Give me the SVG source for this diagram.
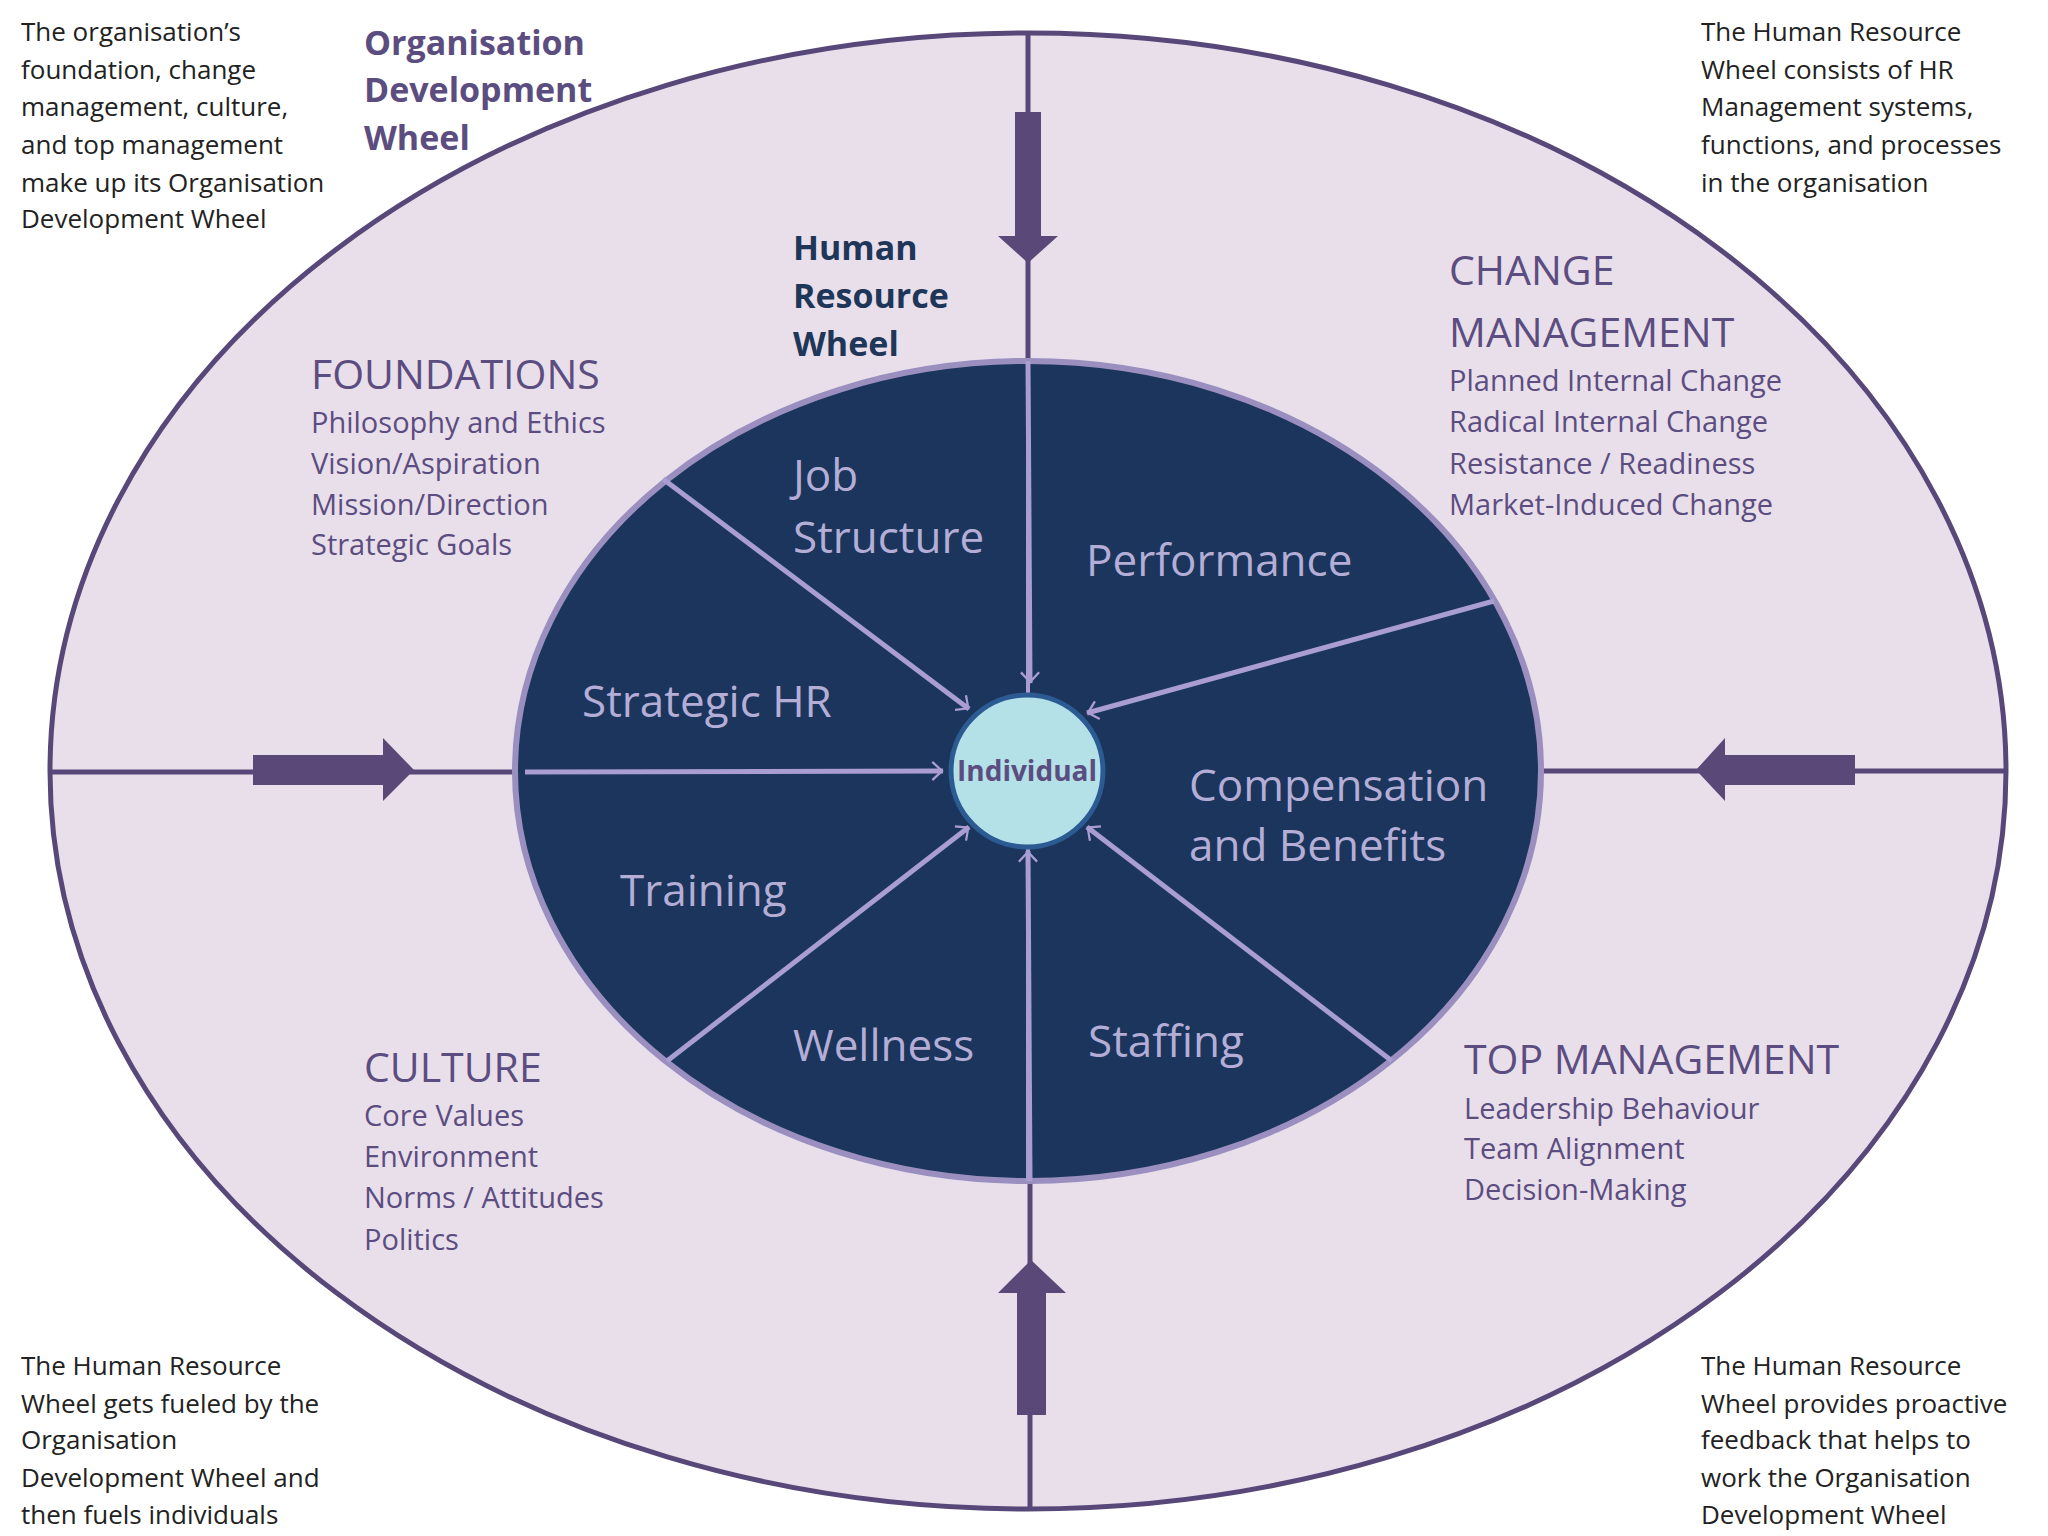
<svg xmlns="http://www.w3.org/2000/svg" width="2048" height="1536" viewBox="0 0 2048 1536">
<style>
.t{font-family:"Open Sans","Noto Sans",sans-serif}
.corner{font-size:26px;fill:#222}
.head{font-size:41px;fill:#5c4d80}
.item{font-size:29px;fill:#5c4d80}
.inner{font-size:44px;fill:#b4aed6}
.spoke{stroke:#a99dd2;stroke-width:5;fill:none;marker-end:url(#oa)}
.cross{stroke:#58487a;stroke-width:5}
.big{fill:#5a4878}
</style>
<defs>
<marker id="oa" viewBox="0 0 12 12" refX="11" refY="6" markerWidth="6" markerHeight="6" orient="auto" markerUnits="userSpaceOnUse" style="overflow:visible">
<path d="M-4,-8 L11,6 L-4,20" fill="none" stroke="#a99dd2" stroke-width="3.5" transform="scale(1.3) translate(-4,-1.5)"/>
</marker>
</defs>
<rect width="2048" height="1536" fill="#fff"/>
<g id="outer"><ellipse cx="1028" cy="771" rx="978" ry="738" fill="#e8dfeb" stroke="#58487a" stroke-width="5"/></g>
<g id="connectors">
<line class="cross" x1="1028" y1="33" x2="1028" y2="361"/>
<line class="cross" x1="1030" y1="1181" x2="1030" y2="1507"/>
<line class="cross" x1="50" y1="772" x2="515" y2="772"/>
<line class="cross" x1="1543" y1="771" x2="2006" y2="771"/>
<polygon class="big" points="1015,112 1041,112 1041,236 1058,236 1028,263 998,236 1015,236"/>
<polygon class="big" points="1017,1415 1046,1415 1046,1293 1066,1293 1031,1260 998,1293 1017,1293"/>
<polygon class="big" points="253,755 383,755 383,738 414,770 383,801 383,785 253,785"/>
<polygon class="big" points="1855,755 1725,755 1725,738 1696,770 1725,801 1725,785 1855,785"/>
</g>
<g id="hr-wheel"><ellipse cx="1028" cy="771" rx="513" ry="410" fill="#1b355d" stroke="#9b8fc0" stroke-width="6"/></g>
<g id="spokes">
<line class="cross" x1="1028" y1="361" x2="1028" y2="1181" style="stroke:#a99dd2;stroke-width:4"/>
<line class="spoke" x1="1028" y1="361" x2="1030" y2="683"/>
<line class="spoke" x1="663" y1="479" x2="969" y2="709"/>
<line class="spoke" x1="1494" y1="601" x2="1087" y2="713"/>
<line class="spoke" x1="525" y1="772" x2="943" y2="771"/>
<line class="spoke" x1="667" y1="1061" x2="969" y2="827"/>
<line class="spoke" x1="1030" y1="1181" x2="1028" y2="851"/>
<line class="spoke" x1="1392" y1="1061" x2="1087" y2="827"/>
</g>
<g id="individual"><circle cx="1027" cy="771" r="76" fill="#b4e0e8" stroke="#2b5b92" stroke-width="5"/>
<text class="t" x="1027" y="781" text-anchor="middle" font-size="28" font-weight="bold" fill="#5c4d80">Individual</text></g>
<g id="inner-labels" class="t inner">
<text x="793" y="491">Job</text><text x="793" y="553">Structure</text>
<text x="1086" y="576">Performance</text>
<text x="582" y="717">Strategic HR</text>
<text x="1189" y="801">Compensation</text><text x="1189" y="861">and Benefits</text>
<text x="620" y="906">Training</text>
<text x="793" y="1061">Wellness</text>
<text x="1088" y="1057">Staffing</text>
</g>
<g id="titles" class="t" font-weight="bold" font-size="34">
<text fill="#5c4d80"><tspan x="364" y="55">Organisation</tspan><tspan x="364" y="102">Development</tspan><tspan x="364" y="150">Wheel</tspan></text>
<text fill="#1e3658"><tspan x="793" y="260">Human</tspan><tspan x="793" y="308">Resource</tspan><tspan x="793" y="356">Wheel</tspan></text>
</g>
<g id="foundations" class="t"><text class="head" x="311" y="389">FOUNDATIONS</text>
<text class="item"><tspan x="311" y="433">Philosophy and Ethics</tspan><tspan x="311" y="474">Vision/Aspiration</tspan><tspan x="311" y="515">Mission/Direction</tspan><tspan x="311" y="555">Strategic Goals</tspan></text></g>
<g id="change" class="t"><text class="head"><tspan x="1449" y="285">CHANGE</tspan><tspan x="1449" y="347">MANAGEMENT</tspan></text>
<text class="item"><tspan x="1449" y="391">Planned Internal Change</tspan><tspan x="1449" y="432">Radical Internal Change</tspan><tspan x="1449" y="474">Resistance / Readiness</tspan><tspan x="1449" y="515">Market-Induced Change</tspan></text></g>
<g id="culture" class="t"><text class="head" x="364" y="1082">CULTURE</text>
<text class="item"><tspan x="364" y="1126">Core Values</tspan><tspan x="364" y="1167">Environment</tspan><tspan x="364" y="1208">Norms / Attitudes</tspan><tspan x="364" y="1250">Politics</tspan></text></g>
<g id="top" class="t"><text class="head" x="1464" y="1074">TOP MANAGEMENT</text>
<text class="item"><tspan x="1464" y="1119">Leadership Behaviour</tspan><tspan x="1464" y="1159">Team Alignment</tspan><tspan x="1464" y="1200">Decision-Making</tspan></text></g>
<g id="notes" class="t corner">
<text><tspan x="21" y="41">The organisation’s</tspan><tspan x="21" y="79">foundation, change</tspan><tspan x="21" y="116">management, culture,</tspan><tspan x="21" y="154">and top management</tspan><tspan x="21" y="192">make up its Organisation</tspan><tspan x="21" y="228">Development Wheel</tspan></text>
<text><tspan x="1701" y="41">The Human Resource</tspan><tspan x="1701" y="79">Wheel consists of HR</tspan><tspan x="1701" y="116">Management systems,</tspan><tspan x="1701" y="154">functions, and processes</tspan><tspan x="1701" y="192">in the organisation</tspan></text>
<text><tspan x="21" y="1375">The Human Resource</tspan><tspan x="21" y="1413">Wheel gets fueled by the</tspan><tspan x="21" y="1449">Organisation</tspan><tspan x="21" y="1487">Development Wheel and</tspan><tspan x="21" y="1524">then fuels individuals</tspan></text>
<text><tspan x="1701" y="1375">The Human Resource</tspan><tspan x="1701" y="1413">Wheel provides proactive</tspan><tspan x="1701" y="1449">feedback that helps to</tspan><tspan x="1701" y="1487">work the Organisation</tspan><tspan x="1701" y="1524">Development Wheel</tspan></text>
</g>
</svg>
